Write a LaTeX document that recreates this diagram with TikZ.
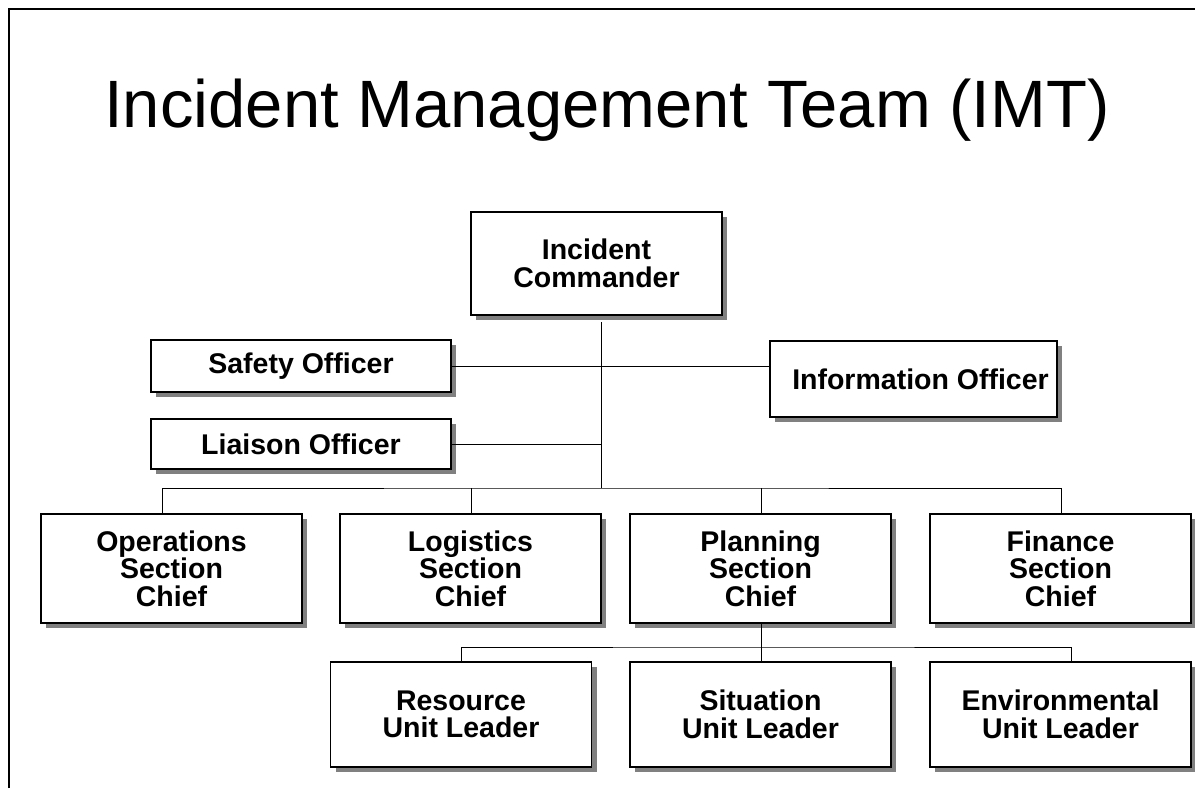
\documentclass[tikz,border=0pt]{standalone}
\usepackage{fontspec}
\setmainfont{Liberation Sans}
\usetikzlibrary{calc}
\usetikzlibrary{shadows}

\tikzset{
  box/.style={draw, line width=1.1pt, fill=white, align=center, inner sep=0pt,
    font=\fontsize{28.5}{27.5}\selectfont\bfseries,
    general shadow={fill=black!50, shadow xshift=5pt, shadow yshift=-5pt}},
  link/.style={line width=0.9pt}
}

\begin{document}
\begin{tikzpicture}[x=1pt,y=-1pt]
            \useasboundingbox (0,0) rectangle (1195,788);
            \draw[line width=2.2pt] (9,788) -- (9,9) -- (1195,9);
            \node[anchor=base, font=\fontsize{67}{70}\selectfont] (title) at (607,127) {Incident Management Team (IMT)};
            % command and staff
            \node[box, minimum width=251pt, minimum height=103pt] (ic) at (596.5,263.5) {Incident\\Commander};
            \node[box, minimum width=300pt, minimum height=52pt] (safety) at (301,366) {Safety Officer};
            \node[box, minimum width=287pt, minimum height=76pt] (info) at (913.5,379) {\hspace*{14pt}Information Officer};
            \node[box, minimum width=300pt, minimum height=50pt] (liaison) at (301,444) {Liaison Officer};
            % sections
            \node[box, minimum width=261pt, minimum height=109pt] (ops) at (171.5,568.5) {Operations\\Section\\Chief};
            \node[box, minimum width=261pt, minimum height=109pt] (log) at (470.5,568.5) {Logistics\\Section\\Chief};
            \node[box, minimum width=261pt, minimum height=109pt] (plan) at (760.5,568.5) {Planning\\Section\\Chief};
            \node[box, minimum width=261pt, minimum height=109pt] (fin) at (1060.5,568.5) {Finance\\Section\\Chief};
            % units
            \node[box, minimum width=261pt, minimum height=105pt] (res) at (461,714.5) {Resource\\Unit Leader};
            \node[box, minimum width=261pt, minimum height=105pt] (sit) at (760.5,714.5) {Situation\\Unit Leader};
            \node[box, minimum width=261pt, minimum height=105pt] (env) at (1060.5,714.5) {Environmental\\Unit Leader};
            \coordinate (top) at (601,322);
            \coordinate (bus) at (601,488);
            \coordinate (sub) at (761,647);
            \draw[link] (top) -- (bus);
            \draw[link] (safety.east) -- (safety.east -| info.west);
            \draw[link] (liaison.east) -- (liaison.east -| bus);
            \draw[link] ([xshift=-9.5pt]ops.north) |- (bus) -| ([xshift=0.5pt]fin.north);
            \draw[link] ([xshift=0.5pt]log.north) -- ([xshift=0.5pt]log.north |- bus);
            \draw[link] ([xshift=0.5pt]plan.north) -- ([xshift=0.5pt]plan.north |- bus);
            \draw[link] ([xshift=0.5pt]plan.south) -- ([xshift=0.5pt]sit.north);
            \draw[link] (res.north) |- (sub) -| ([xshift=10.5pt]env.north);
        \end{tikzpicture}
\end{document}
